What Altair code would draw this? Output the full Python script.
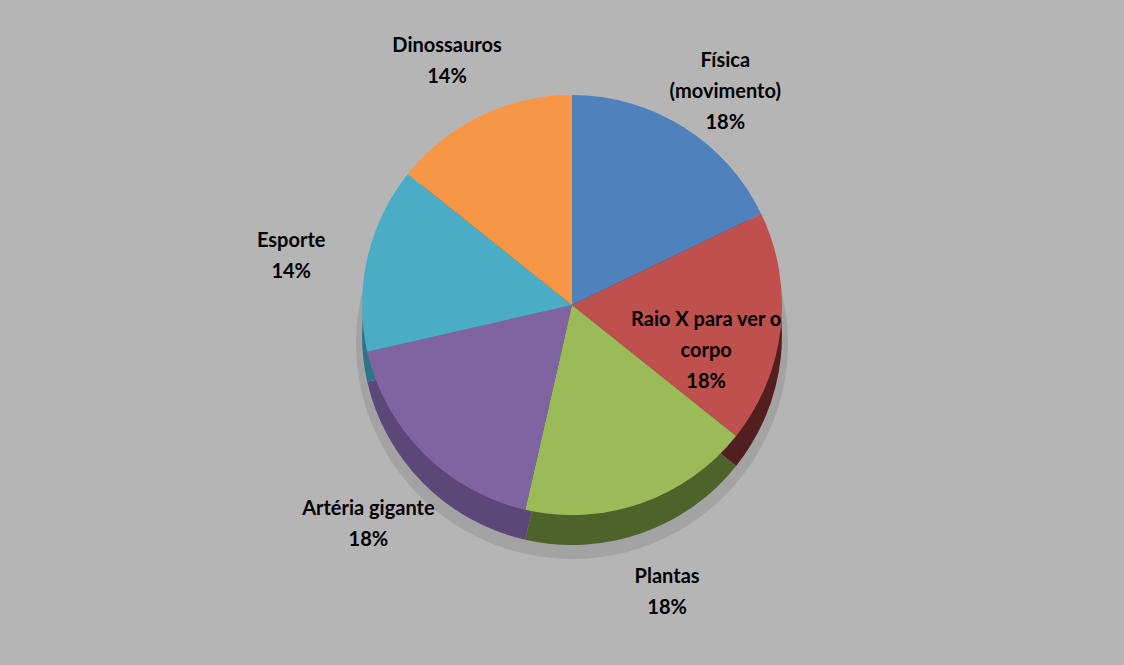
import altair as alt
import pandas as pd

topics = ["Física (movimento)", "Raio X para ver o corpo", "Plantas",
          "Artéria gigante", "Esporte", "Dinossauros"]
label_lines = ["Física\n(movimento)", "Raio X para ver o\ncorpo", "Plantas",
               "Artéria gigante", "Esporte", "Dinossauros"]
counts = [5, 5, 5, 5, 4, 4]
top_colors = ["#4f81bd", "#c0504d", "#9bbb59", "#8064a2", "#4bacc6", "#f79646"]
side_colors = ["#2c4a6e", "#531f1e", "#4e6329", "#5c4779", "#2e7487", "#a5601f"]

total = sum(counts)
pct = [f"{round(c / total * 100)}%" for c in counts]
full = [f"{l}\n{p}" for l, p in zip(label_lines, pct)]
inner = ["Raio X para ver o corpo"]
df = pd.DataFrame({
    "topic": topics,
    "count": counts,
    "order": list(range(len(topics))),
    "outer_label": ["" if t in inner else f for t, f in zip(topics, full)],
    "inner_label": [f if t in inner else "" for t, f in zip(topics, full)],
})

W, H = 1104, 610
CY = H / 2
R = 210
DEPTH = 30

theta = alt.Theta("count:Q", stack=True)
order = alt.Order("order:Q", sort="ascending")
base = alt.Chart(df)

shadow = base.mark_arc(outerRadius=R + 6, color="#8f8f8f", opacity=0.45).encode(
    theta=theta, order=order, y=alt.value(CY + DEPTH + 8))
side = base.mark_arc(outerRadius=R).encode(
    theta=theta, order=order, y=alt.value(CY + DEPTH),
    color=alt.Color("topic:N", scale=alt.Scale(domain=topics, range=side_colors), legend=None))
top = base.mark_arc(outerRadius=R).encode(
    theta=theta, order=order, y=alt.value(CY),
    color=alt.Color("topic:N", scale=alt.Scale(domain=topics, range=top_colors), legend=None))

txt_style = dict(font="Lato", fontSize=20, fontWeight="bold", color="#000000",
                 lineBreak="\n", align="center", baseline="middle", lineHeight=31)
outer_txt = base.mark_text(radius=R + 78, **txt_style).encode(
    theta=theta, order=order, text="outer_label:N")
inner_txt = base.mark_text(radius=R - 75, **txt_style).encode(
    theta=theta, order=order, text="inner_label:N")

chart = alt.layer(shadow, side, top, outer_txt, inner_txt).resolve_scale(
    color="independent"
).properties(
    width=W, height=H, background="#b5b5b5",
    autosize=alt.AutoSizeParams(type="none"),
    padding={"left": 20, "top": 0, "right": 0, "bottom": 55},
).configure_view(stroke=None)

chart.save("out.html", embed_options={"renderer": "svg", "actions": False})
